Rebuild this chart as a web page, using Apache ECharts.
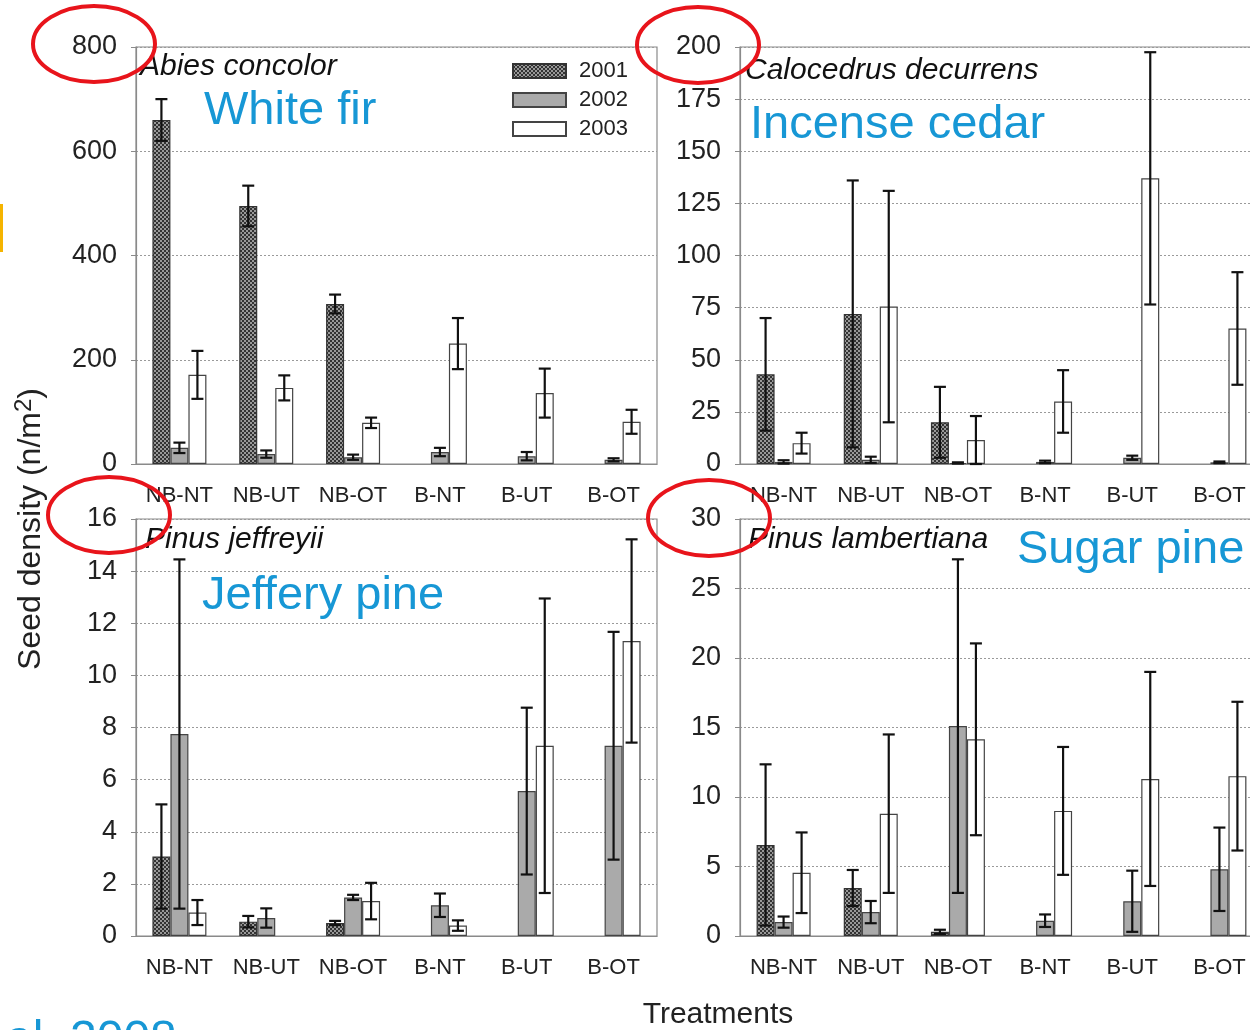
<!DOCTYPE html>
<html>
<head>
<meta charset="utf-8">
<script src="https://cdn.jsdelivr.net/npm/echarts@6/dist/echarts.min.js"></script>
<style>
  html, body { margin: 0; padding: 0; background: #fff; overflow: hidden; }
  #chart { width: 1270px; height: 1030px; }
</style>
</head>
<body>
<div id="chart"></div>
<script>
// ---------- data ----------
const categories = ['NB-NT', 'NB-UT', 'NB-OT', 'B-NT', 'B-UT', 'B-OT'];
const years = ['2001', '2002', '2003'];

// Abies concolor (White fir)
const abies2001 = [660, 495, 307, null, null, null];
const abies2001Err = [40, 39, 18, null, null, null];
const abies2002 = [31, 19, 13, 23, 15, 8];
const abies2002Err = [10, 7, 5, 8, 8, 3];
const abies2003 = [171, 146, 79, 231, 136, 81];
const abies2003Err = [46, 24, 10, 49, 47, 23];

// Calocedrus decurrens (Incense cedar)
const calo2001 = [43, 72, 20, null, null, null];
const calo2001Err = [27, 64, 17, null, null, null];
const calo2002 = [1, 2, 0.5, 1, 3, 0.8];
const calo2002Err = [0.8, 1.5, 0.3, 0.6, 1, 0.4];
const calo2003 = [10, 75.5, 11.5, 30, 137, 65];
const calo2003Err = [5, 55.5, 11.5, 15, 60.5, 27];

// Pinus jeffreyii (Jeffery pine)
const jeff2001 = [3.05, 0.55, 0.5, null, null, null];
const jeff2001Err = [2, 0.22, 0.08, null, null, null];
const jeff2002 = [7.75, 0.69, 1.48, 1.18, 5.56, 7.3];
const jeff2002Err = [6.7, 0.37, 0.1, 0.45, 3.2, 4.37];
const jeff2003 = [0.9, null, 1.34, 0.4, 7.3, 11.32];
const jeff2003Err = [0.48, null, 0.7, 0.2, 5.65, 3.9];

// Pinus lambertiana (Sugar pine)
const lamb2001 = [6.55, 3.45, 0.3, null, null, null];
const lamb2001Err = [5.8, 1.3, 0.15, null, null, null];
const lamb2002 = [1.0, 1.72, 15.1, 1.1, 2.5, 4.8];
const lamb2002Err = [0.4, 0.8, 12, 0.45, 2.2, 3];
const lamb2003 = [4.55, 8.8, 14.15, 9.0, 11.3, 11.5];
const lamb2003Err = [2.9, 5.7, 6.9, 4.6, 7.7, 5.35];

const yMax = [800, 200, 16, 30];
const yStep = [200, 25, 2, 5];
const speciesNames = ['Abies concolor', 'Calocedrus decurrens', 'Pinus jeffreyii', 'Pinus lambertiana'];
const commonNames = ['White fir', 'Incense cedar', 'Jeffery pine', 'Sugar pine'];

// ---------- styling ----------
const BW = 18;
function makePattern() {
  const c = document.createElement('canvas');
  c.width = 4; c.height = 4;
  const g = c.getContext('2d');
  g.fillStyle = '#333333'; g.fillRect(0, 0, 4, 4);
  g.fillStyle = '#999999';
  g.fillRect(0, 0, 2, 2); g.fillRect(2, 2, 2, 2);
  return c;
}
const pattern = { image: makePattern(), repeat: 'repeat' };
const yearStyles = [
  { color: pattern, borderColor: '#333', borderWidth: 1.2 },
  { color: '#aaaaaa', borderColor: '#444', borderWidth: 1.2 },
  { color: '#ffffff', borderColor: '#444', borderWidth: 1.2 }
];

const panels = [
  { vals: [abies2001, abies2002, abies2003], errs: [abies2001Err, abies2002Err, abies2003Err] },
  { vals: [calo2001, calo2002, calo2003], errs: [calo2001Err, calo2002Err, calo2003Err] },
  { vals: [jeff2001, jeff2002, jeff2003], errs: [jeff2001Err, jeff2002Err, jeff2003Err] },
  { vals: [lamb2001, lamb2002, lamb2003], errs: [lamb2001Err, lamb2002Err, lamb2003Err] }
];

const grids = [
  { left: 136, top: 47, width: 521, height: 417 },
  { left: 740, top: 47, width: 523, height: 417 },
  { left: 136, top: 519, width: 521, height: 417 },
  { left: 740, top: 519, width: 523, height: 417 }
];

const FONT = '"Liberation Sans", Arial, sans-serif';

function errRender(params, api) {
  const cat = api.value(0), yi = api.value(1), lo = api.value(2), hi = api.value(3);
  const pHi = api.coord([cat, hi]);
  const pLo = api.coord([cat, lo]);
  const x = pHi[0] + (yi - 1) * BW;
  const st = { stroke: '#111', lineWidth: 2.2 };
  return {
    type: 'group',
    children: [
      { type: 'line', shape: { x1: x, y1: pHi[1], x2: x, y2: pLo[1] }, style: st },
      { type: 'line', shape: { x1: x - 6, y1: pHi[1], x2: x + 6, y2: pHi[1] }, style: st },
      { type: 'line', shape: { x1: x - 6, y1: pLo[1], x2: x + 6, y2: pLo[1] }, style: st }
    ]
  };
}

const xAxes = [], yAxes = [], series = [];
grids.forEach((g, k) => {
  xAxes.push({
    type: 'category', gridIndex: k, data: categories,
    axisLine: { lineStyle: { color: '#8a8a8a', width: 1.2 } },
    axisTick: { alignWithLabel: true, length: 6, lineStyle: { color: '#8a8a8a' } },
    axisLabel: { color: '#222', fontSize: 22, fontFamily: FONT, margin: 21, interval: 0 },
    splitLine: { show: false }
  });
  yAxes.push({
    type: 'value', gridIndex: k, min: 0, max: yMax[k], interval: yStep[k],
    axisLine: { show: true, lineStyle: { color: '#8a8a8a', width: 1.2 } },
    axisTick: { show: true, length: 5, lineStyle: { color: '#8a8a8a' } },
    axisLabel: { color: '#222', fontSize: 27, fontFamily: FONT, margin: 19 },
    splitLine: { show: true, lineStyle: { color: '#9a9a9a', type: [2, 2], width: 1 } }
  });
  const p = panels[k];
  const errData = [];
  years.forEach((yr, yi) => {
    series.push({
      type: 'bar', name: yr, xAxisIndex: k, yAxisIndex: k,
      data: p.vals[yi], barWidth: BW, barGap: '0%',
      itemStyle: yearStyles[yi], silent: true, z: 2
    });
    p.vals[yi].forEach((v, i) => {
      const e = p.errs[yi][i];
      if (v != null && e != null) errData.push([i, yi, Math.max(0, v - e), v + e]);
    });
  });
  series.push({
    type: 'custom', name: 'err' + k, xAxisIndex: k, yAxisIndex: k,
    renderItem: errRender, data: errData, encode: { x: 0, y: 3 }, z: 5, silent: true
  });
});

const blue = '#1797d5';
const graphic = [
  { type: 'rect', shape: { x: 0, y: 204, width: 3, height: 48 }, style: { fill: '#f5b400' } },
  // species names
  { type: 'text', x: 140, y: 67, style: { text: speciesNames[0], fontSize: 30, fontStyle: 'italic', fontFamily: FONT, fill: '#111', verticalAlign: 'middle' } },
  { type: 'text', x: 745, y: 71, style: { text: speciesNames[1], fontSize: 30, fontStyle: 'italic', fontFamily: FONT, fill: '#111', verticalAlign: 'middle' } },
  { type: 'text', x: 145, y: 540, style: { text: speciesNames[2], fontSize: 30, fontStyle: 'italic', fontFamily: FONT, fill: '#111', verticalAlign: 'middle' } },
  { type: 'text', x: 748, y: 540, style: { text: speciesNames[3], fontSize: 30, fontStyle: 'italic', fontFamily: FONT, fill: '#111', verticalAlign: 'middle' } },
  // common names
  { type: 'text', x: 204, y: 111, style: { text: commonNames[0], fontSize: 47, fontFamily: FONT, fill: blue, verticalAlign: 'middle' } },
  { type: 'text', x: 750, y: 125, style: { text: commonNames[1], fontSize: 47, fontFamily: FONT, fill: blue, verticalAlign: 'middle' } },
  { type: 'text', x: 202, y: 596, style: { text: commonNames[2], fontSize: 47, fontFamily: FONT, fill: blue, verticalAlign: 'middle' } },
  { type: 'text', x: 1017, y: 550, style: { text: commonNames[3], fontSize: 47, fontFamily: FONT, fill: blue, verticalAlign: 'middle' } },
  // citation fragment
  { type: 'text', x: 6, y: 1041, style: { text: 'al. 2008', fontSize: 48, fontFamily: FONT, fill: blue, verticalAlign: 'middle' } },
  // axis titles
  { type: 'text', x: 718, y: 1015, style: { text: 'Treatments', fontSize: 30, fontFamily: FONT, fill: '#222', align: 'center', verticalAlign: 'middle' } },
  { type: 'text', x: 31, y: 529, rotation: Math.PI / 2,
    style: { text: '{a|Seed density (n/m}{s|2}{a|)}', fill: '#222', align: 'center', verticalAlign: 'middle',
      rich: { a: { fontSize: 32, fontFamily: FONT, fill: '#222' }, s: { fontSize: 24, fontFamily: FONT, fill: '#222', verticalAlign: 'top', padding: [0, 0, 14, 0] } } } },
  // red ellipses
  { type: 'ellipse', shape: { cx: 94, cy: 44, rx: 61, ry: 38 }, style: { fill: 'none', stroke: '#e8141b', lineWidth: 4 }, z: 100 },
  { type: 'ellipse', shape: { cx: 698, cy: 45, rx: 61, ry: 38 }, style: { fill: 'none', stroke: '#e8141b', lineWidth: 4 }, z: 100 },
  { type: 'ellipse', shape: { cx: 109, cy: 515, rx: 61, ry: 38 }, style: { fill: 'none', stroke: '#e8141b', lineWidth: 4 }, z: 100 },
  { type: 'ellipse', shape: { cx: 709, cy: 518, rx: 61, ry: 38 }, style: { fill: 'none', stroke: '#e8141b', lineWidth: 4 }, z: 100 }
];

const chart = echarts.init(document.getElementById('chart'), null, { renderer: 'canvas' });
chart.setOption({
  animation: false,
  backgroundColor: '#fff',
  grid: grids.map(g => Object.assign({ show: true, borderColor: '#8a8a8a', borderWidth: 1.2, backgroundColor: 'transparent' }, g)),
  xAxis: xAxes,
  yAxis: yAxes,
  legend: {
    data: years, orient: 'vertical', left: 512, top: 60,
    itemWidth: 53, itemHeight: 14, itemGap: 7, icon: 'rect', padding: 0,
    selectedMode: false,
    textStyle: { fontSize: 22, fontFamily: FONT, color: '#222', padding: [0, 0, 0, 8] }
  },
  series: series,
  graphic: graphic
});
</script>
</body>
</html>
